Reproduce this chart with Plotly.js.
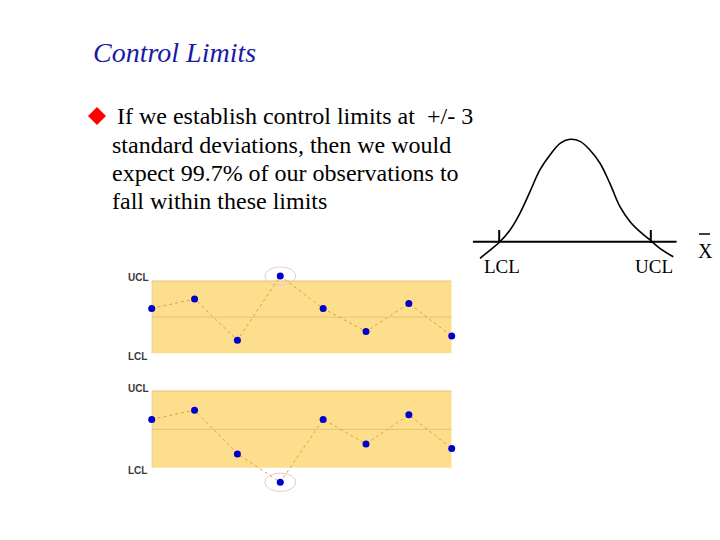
<!DOCTYPE html>
<html>
<head>
<meta charset="utf-8">
<script src="https://cdn.plot.ly/plotly-3.0.1.min.js"></script>
<style>html,body{margin:0;padding:0;background:#fff;}#chart{width:720px;height:540px;}</style>
</head>
<body>
<div id="chart"></div>
<script>
// ---- data ----
const samples = [1, 2, 3, 4, 5, 6, 7, 8];
const chartAValues = [0.62, 0.75, 0.18, 1.07, 0.62, 0.30, 0.69, 0.24];   // one point above UCL
const chartBValues = [0.63, 0.75, 0.18, -0.19, 0.63, 0.31, 0.69, 0.25];  // one point below LCL
const UCL = 1, LCL = 0, CENTER = 0.5;
const outlierA = 4, outlierB = 4;

// bell curve, x in sigma-like units (LCL=-3, UCL=+3), y relative to peak (axis at 0)
const bellX = [-3.76, -3.36, -2.97, -2.57, -2.18, -1.78, -1.39, -0.99, -0.59, -0.20, 0.20, 0.59, 0.99, 1.38, 1.78, 2.18, 2.57, 2.97, 3.36, 3.89];
const bellY = [-0.162, -0.081, 0.0, 0.114, 0.277, 0.489, 0.701, 0.847, 0.961, 1.0, 0.98, 0.896, 0.766, 0.570, 0.342, 0.195, 0.098, 0.017, -0.065, -0.147];
const bellLimits = [-3, 3];
const bellLabels = ['LCL', 'UCL'];

const titleText = 'Control Limits';
const bulletLines = [
  'If we establish control limits at  +/- 3',
  'standard deviations, then we would',
  'expect 99.7% of our observations to',
  'fall within these limits'
];

// ---- helpers ----
const W = 720, H = 540;
const px = v => v / W;
const py = v => 1 - v / H;

const BAND = '#FDDE8C';
const EDGE = '#E6C27A';
const LINKC = '#D9A441';
const DOT = '#0000CC';

function ctrlTraces(vals, xa, ya) {
  return [{
    x: samples, y: vals, xaxis: xa, yaxis: ya, type: 'scatter', mode: 'lines+markers',
    line: {color: LINKC, width: 1, dash: 'dot'},
    marker: {color: DOT, size: 7, symbol: 'circle'},
    cliponaxis: false, hoverinfo: 'skip', showlegend: false
  }];
}

const traces = [
  ...ctrlTraces(chartAValues, 'x', 'y'),
  ...ctrlTraces(chartBValues, 'x2', 'y2'),
  {
    x: bellX, y: bellY, xaxis: 'x3', yaxis: 'y3', type: 'scatter', mode: 'lines',
    line: {color: '#000', width: 1.6, shape: 'spline', smoothing: 1.0},
    cliponaxis: false, hoverinfo: 'skip', showlegend: false
  }
];

function ctrlShapes(xr, yr, outX, outY, ry) {
  const s = [];
  s.push({type: 'rect', xref: xr, yref: yr, x0: samples[0], x1: samples[samples.length - 1], y0: LCL, y1: UCL,
          fillcolor: BAND, line: {width: 0}, layer: 'below'});
  s.push({type: 'line', xref: xr, yref: yr, x0: samples[0], x1: samples[samples.length - 1], y0: UCL, y1: UCL,
          line: {color: EDGE, width: 1}, layer: 'below'});
  s.push({type: 'line', xref: xr, yref: yr, x0: samples[0], x1: samples[samples.length - 1], y0: CENTER, y1: CENTER,
          line: {color: EDGE, width: 1}, layer: 'below'});
  s.push({type: 'line', xref: xr, yref: yr, x0: samples[0], x1: samples[0], y0: LCL, y1: UCL,
          line: {color: '#C8B89A', width: 1}, layer: 'below'});
  s.push({type: 'circle', xref: xr, yref: yr, x0: outX - 0.36, x1: outX + 0.36, y0: outY - ry, y1: outY + ry,
          line: {color: '#E9C9C4', width: 1}, layer: 'below'});
  return s;
}

const shapes = [
  ...ctrlShapes('x', 'y', outlierA, chartAValues[outlierA - 1], 0.125),
  ...ctrlShapes('x2', 'y2', outlierB, chartBValues[outlierB - 1], 0.12),
  // bell axis line
  {type: 'line', xref: 'x3', yref: 'y3', x0: -4.04, x1: 4.02, y0: 0, y1: 0, line: {color: '#000', width: 2}},
  // limit ticks
  ...bellLimits.map(v => ({type: 'line', xref: 'x3', yref: 'y3', x0: v, x1: v, y0: -0.013, y1: 0.114,
                           line: {color: '#000', width: 2}})),
  // bullet diamond
  {type: 'path', xref: 'paper', yref: 'paper',
   path: `M ${px(88)} ${py(116)} L ${px(97)} ${py(107)} L ${px(106)} ${py(116)} L ${px(97)} ${py(125)} Z`,
   fillcolor: '#FF0000', line: {width: 0}},
  // x-bar overline
  {type: 'line', xref: 'paper', yref: 'paper', x0: px(699), x1: px(710), y0: py(234), y1: py(234),
   line: {color: '#000', width: 1.5}}
];

const serif = "'Liberation Serif', 'Times New Roman', Times, serif";
const sans = "'Liberation Sans', Arial, sans-serif";

const annotations = [
  {text: '<i>' + titleText + '</i>', xref: 'paper', yref: 'paper', x: px(91), y: py(52), xanchor: 'left', yanchor: 'middle',
   showarrow: false, font: {family: serif, size: 28, color: '#1A1AA6'}},
  {text: bulletLines[0], xref: 'paper', yref: 'paper', x: px(115), y: py(116), xanchor: 'left', yanchor: 'middle',
   showarrow: false, font: {family: serif, size: 24, color: '#000'}},
  ...bulletLines.slice(1).map((t, i) => ({text: t, xref: 'paper', yref: 'paper', x: px(110), y: py([145, 173, 201][i]),
   xanchor: 'left', yanchor: 'middle', showarrow: false, font: {family: serif, size: 24, color: '#000'}})),
  ...bellLimits.map((v, i) => ({text: bellLabels[i], xref: 'x3', yref: 'paper', x: v + 0.12, y: py(266),
   xanchor: 'center', yanchor: 'middle', showarrow: false, font: {family: serif, size: 19, color: '#000'}})),
  {text: 'X', xref: 'paper', yref: 'paper', x: px(705), y: py(251), xanchor: 'center', yanchor: 'middle',
   showarrow: false, font: {family: serif, size: 20, color: '#000'}},
  // control chart limit labels
  {text: '<b>UCL</b>', xref: 'paper', yref: 'paper', x: px(126), y: py(277), xanchor: 'left', yanchor: 'middle',
   showarrow: false, font: {family: sans, size: 10, color: '#3a3a3a'}},
  {text: '<b>LCL</b>', xref: 'paper', yref: 'paper', x: px(126), y: py(356), xanchor: 'left', yanchor: 'middle',
   showarrow: false, font: {family: sans, size: 10, color: '#3a3a3a'}},
  {text: '<b>UCL</b>', xref: 'paper', yref: 'paper', x: px(126), y: py(388), xanchor: 'left', yanchor: 'middle',
   showarrow: false, font: {family: sans, size: 10, color: '#3a3a3a'}},
  {text: '<b>LCL</b>', xref: 'paper', yref: 'paper', x: px(126), y: py(470), xanchor: 'left', yanchor: 'middle',
   showarrow: false, font: {family: sans, size: 10, color: '#3a3a3a'}}
];

const hidden = {visible: false, fixedrange: true};

// chart A: 72.3 px per unit, LCL at y=353.3px ; chart B: 76.7 px per unit, LCL at 467.7px
const rA = [-0.3, 1.2], rB = [-0.35, 1.15];
const layout = {
  width: W, height: H,
  margin: {l: 0, r: 0, t: 0, b: 0},
  paper_bgcolor: '#fff', plot_bgcolor: 'rgba(0,0,0,0)',
  showlegend: false,
  xaxis:  {...hidden, domain: [px(151.7), px(451.7)], range: [1, 8], anchor: 'y'},
  yaxis:  {...hidden, domain: [py(353.3 - rA[0] * 72.3), py(353.3 - rA[1] * 72.3)], range: rA, anchor: 'x'},
  xaxis2: {...hidden, domain: [px(151.7), px(451.7)], range: [1, 8], anchor: 'y2'},
  yaxis2: {...hidden, domain: [py(467.7 - rB[0] * 76.7), py(467.7 - rB[1] * 76.7)], range: rB, anchor: 'x2'},
  xaxis3: {...hidden, domain: [px(470), px(680)], range: [-4.155, 4.155], anchor: 'y3'},
  yaxis3: {...hidden, domain: [py(262), py(130)], range: [-0.198, 1.091], anchor: 'x3'},
  shapes: shapes,
  annotations: annotations
};

Plotly.newPlot('chart', traces, layout, {staticPlot: true, displayModeBar: false});
</script>
</body>
</html>
